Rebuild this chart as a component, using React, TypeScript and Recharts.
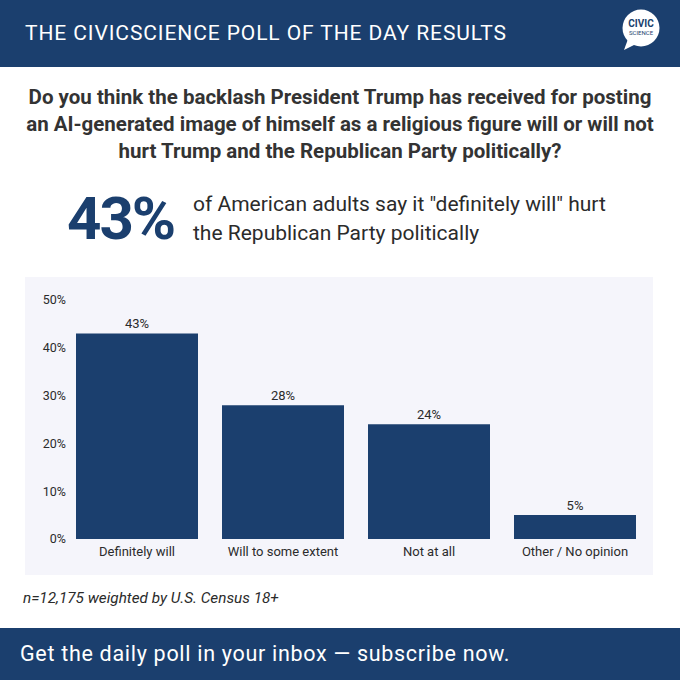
import { BarChart, Bar, XAxis, YAxis, LabelList } from "recharts";

const categories = ["Definitely will", "Will to some extent", "Not at all", "Other / No opinion"];
const shares = [43, 28, 24, 5];
const yTicks = [0, 10, 20, 30, 40, 50];

const NAVY = "#1b3f6e";
const TEXT = "#2b2b2b";
const FONT = "Roboto, 'Noto Sans', sans-serif";

const data = categories.map((label, i) => ({ label, value: shares[i] }));

const Logo = () => (
  <svg width={50} height={50} style={{ position: "absolute", left: 616, top: 5 }}>
    <circle cx={25} cy={23} r={18.5} fill="#fff" />
    <path d="M12 34 L8 45 L20 39 Z" fill="#fff" />
    <text x={25} y={22} textAnchor="middle" fontFamily={FONT} fontWeight={700} fontSize={10} fill={NAVY}>
      CIVIC
    </text>
    <text x={25} y={30} textAnchor="middle" fontFamily={FONT} fontSize={6} fill={NAVY}>
      SCIENCE
    </text>
  </svg>
);

const App = () => {
  return (
    <div
      style={{
        position: "fixed",
        left: 0,
        top: 0,
        width: 680,
        height: 680,
        background: "#fff",
        fontFamily: FONT,
        overflow: "hidden",
      }}
    >
      <div style={{ position: "absolute", left: 0, top: 0, width: 680, height: 67, background: NAVY }}>
        <div
          style={{
            position: "absolute",
            left: 25,
            top: 20,
            color: "#fff",
            fontSize: 21,
            letterSpacing: 0.9,
            lineHeight: "26px",
          }}
        >
          THE CIVICSCIENCE POLL OF THE DAY RESULTS
        </div>
        <Logo />
      </div>

      <div
        style={{
          position: "absolute",
          left: 0,
          top: 84,
          width: 680,
          textAlign: "center",
          fontWeight: 700,
          fontSize: 20.5,
          lineHeight: "27px",
          color: "#333",
        }}
      >
        Do you think the backlash President Trump has received for posting
        <br />
        an AI-generated image of himself as a religious figure will or will not
        <br />
        hurt Trump and the Republican Party politically?
      </div>

      <div
        style={{
          position: "absolute",
          left: 67,
          top: 184,
          fontSize: 60,
          fontWeight: 700,
          color: NAVY,
          letterSpacing: -2,
          lineHeight: "70px",
        }}
      >
        43%
      </div>
      <div
        style={{
          position: "absolute",
          left: 193,
          top: 190,
          fontSize: 21,
          lineHeight: "29px",
          color: TEXT,
        }}
      >
        of American adults say it "definitely will" hurt
        <br />
        the Republican Party politically
      </div>

      <div style={{ position: "absolute", left: 25, top: 277, width: 628, height: 298, background: "#f5f5fb" }}>
        <BarChart
          width={628}
          height={298}
          data={data}
          margin={{ top: 23, right: 5, left: 0, bottom: 6 }}
          barCategoryGap={12}
        >
          <XAxis
            dataKey="label"
            height={30}
            axisLine={false}
            tickLine={false}
            interval={0}
            tick={{ fontSize: 13, fill: TEXT, fontFamily: FONT }}
          />
          <YAxis
            width={39}
            domain={[0, 50]}
            ticks={yTicks}
            axisLine={false}
            tickLine={false}
            tickSize={0}
            tickMargin={-2}
            tickFormatter={(v: number) => `${v}%`}
            tick={{ fontSize: 12.5, fill: TEXT, fontFamily: FONT }}
          />
          <Bar dataKey="value" fill={NAVY} isAnimationActive={false}>
            <LabelList
              dataKey="value"
              position="top"
              offset={5}
              formatter={(v: number) => `${v}%`}
              style={{ fontSize: 13, fill: TEXT, fontFamily: FONT }}
            />
          </Bar>
        </BarChart>
      </div>

      <div
        style={{
          position: "absolute",
          left: 23,
          top: 588,
          fontSize: 15.3,
          fontStyle: "italic",
          color: TEXT,
          lineHeight: "20px",
        }}
      >
        n=12,175 weighted by U.S. Census 18+
      </div>

      <div style={{ position: "absolute", left: 0, top: 628, width: 680, height: 52, background: NAVY }}>
        <div
          style={{
            position: "absolute",
            left: 20,
            top: 13,
            color: "#fff",
            fontSize: 21.5,
            letterSpacing: 0.7,
            lineHeight: "26px",
          }}
        >
          Get the daily poll in your inbox — subscribe now.
        </div>
      </div>
    </div>
  );
};

export default App;
